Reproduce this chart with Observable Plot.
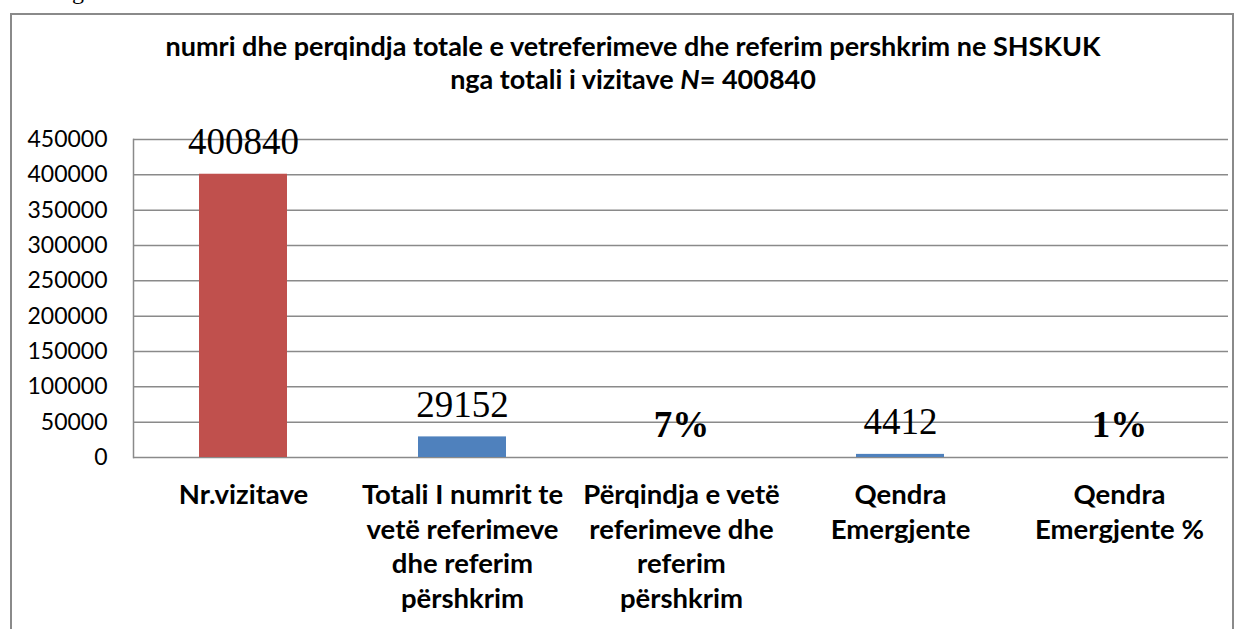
<!DOCTYPE html>
<html>
<head>
<meta charset="utf-8">
<script src="https://cdn.jsdelivr.net/npm/d3@7"></script>
<script src="https://cdn.jsdelivr.net/npm/@observablehq/plot@0.6"></script>
<style>
  body { margin:0; background:#fff; }
  #wrap { position:relative; width:1244px; height:629px; overflow:hidden; background:#fff; }
  #pg { position:absolute; left:48px; top:-22px; font: 24px "Liberation Serif"; color:#000; }
  #border { position:absolute; left:10px; top:13px; width:1220px; height:700px; border:2px solid #8a8a8a; }
  .tl { position:absolute; width:1224px; text-align:center; font: bold 27px Lato; line-height:31px; color:#000; white-space:nowrap; }
  #chart { position:absolute; left:0; top:0; }
</style>
</head>
<body>
<div id="wrap">
  <div id="pg">Page</div>
  <div id="border"></div>
  <div class="tl" style="left:21px; top:30px;">numri dhe perqindja totale e vetreferimeve dhe referim pershkrim ne SHSKUK</div>
  <div class="tl" style="left:21px; top:63px;">nga totali i vizitave <i>N</i>= 400840</div>
  <div id="chart"></div>
</div>
<script>
const categories = [
  "Nr.vizitave",
  "Totali I numrit te\nvetë referimeve\ndhe referim\npërshkrim",
  "Përqindja e vetë\nreferimeve dhe\nreferim\npërshkrim",
  "Qendra\nEmergjente",
  "Qendra\nEmergjente %"
];
const values = [400840, 29152, 7, 4412, 1];
const valueLabels = ["400840", "29152", "7%", "4412", "1%"];
const labelBold = [false, false, true, false, true];
const barColors = ["#C0504D", "#4F81BD", "#4F81BD", "#4F81BD", "#4F81BD"];
const yTicks = [0, 50000, 100000, 150000, 200000, 250000, 300000, 350000, 400000, 450000];

const data = categories.map((c, i) => ({cat: c, value: values[i], label: valueLabels[i], bold: labelBold[i], color: barColors[i]}));
const grid = "#8a8a8a";

const chart = Plot.plot({
  width: 1244,
  height: 629,
  marginLeft: 133,
  marginRight: 16,
  marginTop: 139,
  marginBottom: 172,
  style: {background: "transparent", overflow: "visible"},
  x: {domain: categories, paddingInner: 0.6, paddingOuter: 0.3, axis: null},
  y: {domain: [0, 450000], axis: null},
  marks: [
    Plot.ruleY(yTicks, {stroke: grid, strokeWidth: 1.5}),
    Plot.frame({anchor: "left", stroke: grid, strokeWidth: 1.5}),
    Plot.barY(data, {x: "cat", y: "value", fill: "color"}),
    Plot.text(data.filter(d => !d.bold), {x: "cat", y: "value", text: "label", lineAnchor: "bottom", dy: -20, fontSize: 37, fontFamily: "Liberation Serif", fill: "#000"}),
    Plot.text(data.filter(d => d.bold), {x: "cat", y: "value", text: "label", lineAnchor: "bottom", dy: -20, fontSize: 37, fontWeight: "bold", fontFamily: "Liberation Serif", fill: "#000"}),
    Plot.text(data, {x: "cat", y: () => 0, text: "cat", lineAnchor: "top", dy: 22.5, fontSize: 27.5, fontWeight: "bold", fontFamily: "Lato", lineHeight: 1.25, fill: "#000"}),
    Plot.axisY(yTicks, {label: null, tickSize: 0, tickPadding: 26, tickFormat: d => String(d), fontSize: 23, fontFamily: "Lato", fill: "#000"})
  ]
});
document.getElementById("chart").appendChild(chart);
</script>
</body>
</html>
